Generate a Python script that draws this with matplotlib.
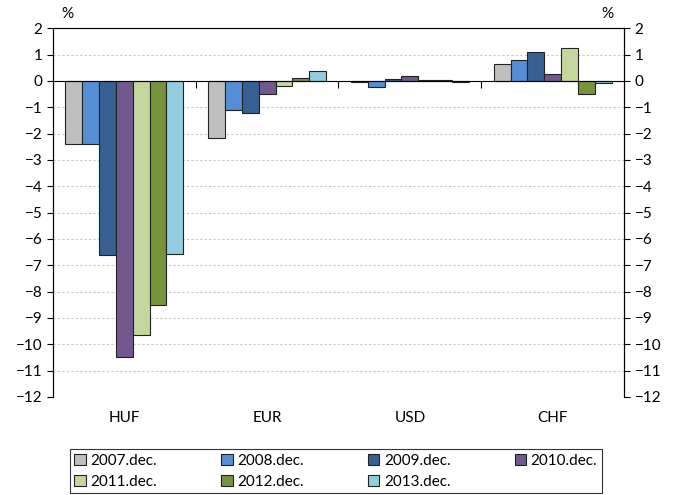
import numpy as np
import matplotlib.pyplot as plt
from matplotlib.patches import Patch

# --- Data ---
currencies = ["HUF", "EUR", "USD", "CHF"]
years = ["2007.dec.", "2008.dec.", "2009.dec.", "2010.dec.", "2011.dec.", "2012.dec.", "2013.dec."]
v2007 = [-2.4, -2.15, -0.04, 0.66]
v2008 = [-2.4, -1.1, -0.24, 0.79]
v2009 = [-6.6, -1.2, 0.07, 1.08]
v2010 = [-10.5, -0.5, 0.18, 0.25]
v2011 = [-9.65, -0.2, 0.02, 1.23]
v2012 = [-8.52, 0.12, 0.02, -0.48]
v2013 = [-6.56, 0.38, -0.04, -0.09]
series = [v2007, v2008, v2009, v2010, v2011, v2012, v2013]
colors = ["#BFBFBF", "#558ED5", "#376092", "#71588F", "#C3D69B", "#77933C", "#93CDDD"]

plt.rcParams["font.family"] = ["Lato", "DejaVu Sans"]
plt.rcParams["font.size"] = 11

fig = plt.figure(figsize=(6.77, 4.95), dpi=100)
ax = fig.add_axes([0.078, 0.198, 0.844, 0.745])

x = np.arange(len(currencies))
w = 0.118
for i, (vals, c) in enumerate(zip(series, colors)):
    ax.bar(x + (i - 3) * w, vals, w, color=c, edgecolor="#222222", linewidth=0.8,
           label=years[i], zorder=3)

ax.set_xlim(-0.5, 3.5)
ax.set_ylim(-12, 2)
ax.set_yticks(range(-12, 3))
ax.grid(axis="y", color="#C8C8C8", linestyle=(0, (2, 2)), linewidth=0.8, zorder=0)

# x axis sits on zero with separator ticks
ax.spines["bottom"].set_position(("data", 0))
ax.spines["bottom"].set_zorder(4)
ax.set_xticks([0.5, 1.5, 2.5])
ax.set_xticklabels([])
ax.tick_params(axis="x", direction="out", length=5, width=0.8)
for i, name in enumerate(currencies):
    ax.text(i, -12.55, name, ha="center", va="top", fontsize=11)

ax.tick_params(axis="y", direction="out", length=4, width=0.8, labelsize=11)
ax2 = ax.twinx()
ax2.set_ylim(-12, 2)
ax2.set_yticks(range(-12, 3))
ax2.tick_params(axis="y", direction="out", length=4, width=0.8, labelsize=11)
for a in (ax, ax2):
    for s in a.spines.values():
        s.set_linewidth(0.8)
ax2.spines["bottom"].set_visible(False)
ax.spines["top"].set_color("#555555")

fig.text(0.100, 0.972, "%", ha="center", va="center", fontsize=11)
fig.text(0.897, 0.972, "%", ha="center", va="center", fontsize=11)

# legend filled row by row
order = [0, 4, 1, 5, 2, 6, 3]
handles = [Patch(facecolor=colors[k], edgecolor="#222222", linewidth=0.8) for k in order]
labels = [years[k] for k in order]
leg = fig.legend(handles, labels, loc="lower center", bbox_to_anchor=(0.496, 0.0), ncol=4,
                 frameon=True, fancybox=False, edgecolor="black", handlelength=0.75,
                 handleheight=0.75, handletextpad=0.3, columnspacing=4.2, fontsize=11,
                 borderpad=0.3, labelspacing=0.45, borderaxespad=0.1)
leg.get_frame().set_linewidth(0.8)

fig.savefig("out.png", dpi=100)
